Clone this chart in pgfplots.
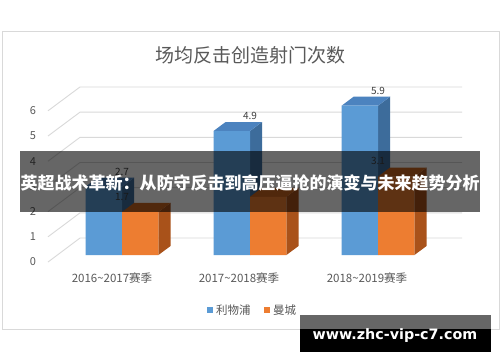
\documentclass[border=0pt]{standalone}
\usepackage{fontspec}
\setmainfont{Noto Sans CJK SC}
\newfontfamily\wmfont{DejaVu Sans}
\usepackage{pgfplots}
\pgfplotsset{compat=1.18}
\definecolor{lb}{HTML}{5B9BD5}
\definecolor{lbtop}{HTML}{4C83BF}
\definecolor{lbside}{HTML}{3D6C9B}
\definecolor{lo}{HTML}{ED7D31}
\definecolor{lotop}{HTML}{C9651F}
\definecolor{loside}{HTML}{A9521A}
\definecolor{gridc}{HTML}{D9D9D9}
\definecolor{txt}{HTML}{595959}
\definecolor{lbl}{HTML}{404040}
\begin{document}
\begin{tikzpicture}[x=1pt,y=1pt]
\path[fill=white] (0,0) rectangle (500,362);
\draw[gridc, line width=0.9pt] (2,33) rectangle (499,331);
\node[font=\fontsize{19}{19}\selectfont, text=txt] at (250,307) {场均反击创造射门次数};
\foreach \v in {0,...,6} {
  \draw[gridc, line width=0.9pt] (48,{100+25.2*\v}) -- (80,{124+25.17*\v}) -- (462,{124+25.17*\v});
  \node[font=\fontsize{11}{11}\selectfont, text=txt] at (33,{100+25.2*\v}) {\v};
}
\begin{axis}[at={(0,0)}, anchor=south west, width=500pt, height=362pt, scale only axis,
  xmin=-0.953125, xmax=2.953125, ymin=-4.2292, ymax=10.0791, hide axis, clip=false,
  /pgf/number format/assume math mode=true]
% Liverpool: side faces, top faces, front faces
\addplot[fill=lbside, draw=none] coordinates {(0,0) (0,2.7) (0.094,3.056) (0.094,0.356)};
\addplot[fill=lbside, draw=none] coordinates {(1,0) (1,4.9) (1.094,5.256) (1.094,0.356)};
\addplot[fill=lbside, draw=none] coordinates {(2,0) (2,5.9) (2.094,6.256) (2.094,0.356)};
\addplot[fill=lbtop, draw=none] coordinates {(-0.285,2.7) (-0.191,3.056) (0.094,3.056) (0,2.7)};
\addplot[fill=lbtop, draw=none] coordinates {(0.715,4.9) (0.809,5.256) (1.094,5.256) (1,4.9)};
\addplot[fill=lbtop, draw=none] coordinates {(1.715,5.9) (1.809,6.256) (2.094,6.256) (2,5.9)};
\addplot[ybar, bar width=0.285, bar shift=-0.1425, fill=lb, draw=none,
  nodes near coords, every node near coord/.append style={font=\fontsize{10}{10}\selectfont, text=lbl, yshift=8pt}]
  coordinates {(0,2.7) (1,4.9) (2,5.9)};
% Man City
\addplot[fill=loside, draw=none] coordinates {(0.285,0) (0.285,1.7) (0.379,2.056) (0.379,0.356)};
\addplot[fill=loside, draw=none] coordinates {(1.285,0) (1.285,2.3) (1.379,2.656) (1.379,0.356)};
\addplot[fill=loside, draw=none] coordinates {(2.285,0) (2.285,3.1) (2.379,3.456) (2.379,0.356)};
\addplot[fill=lotop, draw=none] coordinates {(0,1.7) (0.094,2.056) (0.379,2.056) (0.285,1.7)};
\addplot[fill=lotop, draw=none] coordinates {(1,2.3) (1.094,2.656) (1.379,2.656) (1.285,2.3)};
\addplot[fill=lotop, draw=none] coordinates {(2,3.1) (2.094,3.456) (2.379,3.456) (2.285,3.1)};
\addplot[ybar, bar width=0.285, bar shift=0.1425, fill=lo, draw=none,
  nodes near coords, every node near coord/.append style={font=\fontsize{10}{10}\selectfont, text=lbl, yshift=8pt}]
  coordinates {(0,1.7) (1,2.3) (2,3.1)};
\end{axis}
% category labels
\node[font=\fontsize{11.5}{11.5}\selectfont, text=txt] at (112,84) {2016\textasciitilde2017赛季};
\node[font=\fontsize{11.5}{11.5}\selectfont, text=txt] at (239,84) {2017\textasciitilde2018赛季};
\node[font=\fontsize{11.5}{11.5}\selectfont, text=txt] at (367,84) {2018\textasciitilde2019赛季};
% legend
\fill[lb] (207,49.5) rectangle (212.5,55);
\node[font=\fontsize{11.5}{11.5}\selectfont, text=txt, anchor=west, inner sep=0pt] at (216,52) {利物浦};
\fill[lo] (264,49.5) rectangle (269.5,55);
\node[font=\fontsize{11.5}{11.5}\selectfont, text=txt, anchor=west, inner sep=0pt] at (273,52) {曼城};
% banner overlay
\fill[black, opacity=0.6] (20,150) rectangle (480,211);
\node[font=\fontsize{17}{17}\selectfont\bfseries, text=white] at (250,179) {英超战术革新：从防守反击到高压逼抢的演变与未来趋势分析};
% watermark
\fill[black!60] (300,33) rectangle (491,47);
\fill[black] (300,10) rectangle (491,33);
\node[font=\wmfont\bfseries\fontsize{14.3}{14.3}\selectfont, text=white] at (395,26) {www.zhc-vip-c7.com};
\end{tikzpicture}
\end{document}
